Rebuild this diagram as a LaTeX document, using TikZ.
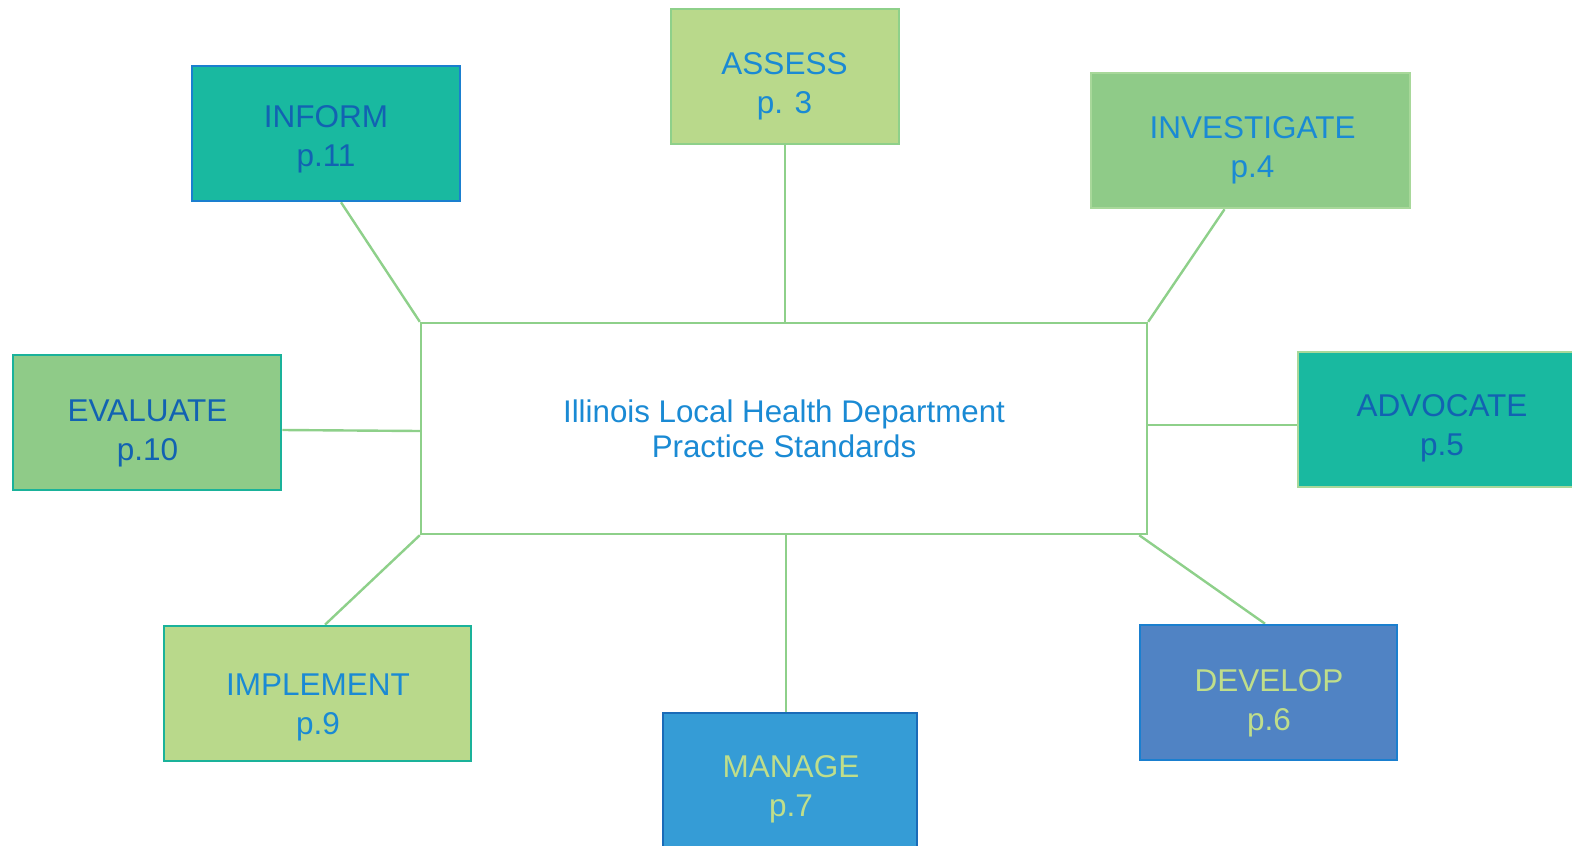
\documentclass[tikz,border=0pt]{standalone}
\usepackage{fontspec}
\setmainfont{Liberation Sans}
\usetikzlibrary{calc,backgrounds}
\definecolor{limefill}{HTML}{B9D98B}
\definecolor{greenfill}{HTML}{8FCB88}
\definecolor{tealfill}{HTML}{19B9A0}
\definecolor{linegreen}{HTML}{8ED08A}
\definecolor{paleborder}{HTML}{A8D89A}
\definecolor{blueborder}{HTML}{1A7FCF}
\definecolor{tealborder}{HTML}{1AB29A}
\definecolor{managefill}{HTML}{359CD6}
\definecolor{manageborder}{HTML}{1A6BB8}
\definecolor{developfill}{HTML}{5083C4}
\definecolor{darktext}{HTML}{1262B2}
\definecolor{bluetext}{HTML}{1A8AD4}
\definecolor{limetext}{HTML}{C0DE8A}
\tikzset{
  box/.style={draw, line width=2.6pt, inner sep=0pt, minimum height=135pt},
  boxtext/.style={inner sep=0pt, align=center, font=\fontsize{31.5}{39}\selectfont},
  link/.style={draw=linegreen, line width=2.4pt}
}
\begin{document}
\begin{tikzpicture}[x=1pt,y=-1pt]
\useasboundingbox (0,0) rectangle (1572,846);
% boxes
\node[box, draw=linegreen, fill=white, line width=2.4pt, minimum width=726pt, minimum height=211pt] (center) at (784,428.5) {};
\node[boxtext, text=bluetext, font=\fontsize{31.3}{35}\selectfont] (center-t) at (784,428.5) {Illinois Local Health Department\\Practice Standards};
\node[box, fill=limefill, draw=linegreen, minimum width=228pt] (assess) at (785,76.5) {};
\node[boxtext, text=bluetext] (assess-t) at (784.5,86) {ASSESS\\p. 3};
\node[box, fill=tealfill, draw=blueborder, minimum width=268pt] (inform) at (326,133.5) {};
\node[boxtext, text=darktext] (inform-t) at (326,139.5) {INFORM\\p.11};
\node[box, fill=greenfill, draw=paleborder, minimum width=319pt] (investigate) at (1250.5,140.5) {};
\node[boxtext, text=bluetext] (investigate-t) at (1252.5,150.5) {INVESTIGATE\\p.4};
\node[box, fill=greenfill, draw=tealborder, minimum width=268pt] (evaluate) at (147,422.5) {};
\node[boxtext, text=darktext] (evaluate-t) at (147.5,433.5) {EVALUATE\\p.10};
\node[box, fill=tealfill, draw=paleborder, minimum width=282pt] (advocate) at (1439,419.5) {};
\node[boxtext, text=darktext] (advocate-t) at (1442,428.5) {ADVOCATE\\p.5};
\node[box, fill=limefill, draw=tealborder, minimum width=307pt] (implement) at (317.5,693.5) {};
\node[boxtext, text=bluetext] (implement-t) at (318,707.5) {IMPLEMENT\\p.9};
\node[box, fill=managefill, draw=manageborder, minimum width=254pt, minimum height=147pt] (manage) at (790,786.5) {};
\node[boxtext, text=limetext] (manage-t) at (791,789) {MANAGE\\p.7};
\node[box, fill=developfill, draw=blueborder, minimum width=257pt] (develop) at (1268.5,692.5) {};
\node[boxtext, text=limetext] (develop-t) at (1269,703) {DEVELOP\\p.6};
% connectors
\coordinate (assessfoot) at (assess.south);
\coordinate (managetop) at ([xshift=-4pt]manage.north);
\begin{scope}[on background layer]
\draw[link] ([xshift=15pt]inform.south) -- (center.north west);
\draw[link] (assessfoot) -- (center.north -| assessfoot);
\draw[link] ([xshift=-26pt]investigate.south) -- (center.north east);
\draw[link] ([yshift=-7.5pt]evaluate.east) -- ([yshift=-2.5pt]center.west);
\draw[link] ([yshift=-5.5pt]advocate.west) -- ([yshift=3.5pt]center.east);
\draw[link] ([xshift=7.5pt]implement.north) -- (center.south west);
\draw[link] (managetop) -- (center.south -| managetop);
\draw[link] ([xshift=-3.5pt]develop.north) -- ([xshift=-9pt]center.south east);
\end{scope}
\end{tikzpicture}
\end{document}
